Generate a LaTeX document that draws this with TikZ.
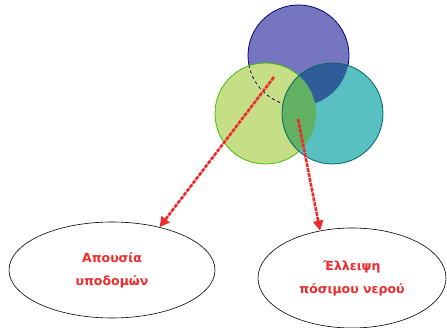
\documentclass[tikz,border=0pt]{standalone}
\usepackage{fontspec}
\setmainfont{DejaVu Sans}[BoldFont=DejaVu Sans Bold]
\usetikzlibrary{shapes.geometric,arrows.meta}
\definecolor{setblue}{HTML}{7676C0}
\definecolor{setgreen}{HTML}{C6DF86}
\definecolor{setteal}{HTML}{58C0C0}
\definecolor{bluecap}{HTML}{2E5D98}
\definecolor{greencap}{HTML}{62B062}
\definecolor{labred}{HTML}{EE2A2A}

\begin{document}
\begin{tikzpicture}[x=1pt,y=-1pt,line width=.8pt,
  bubble/.style={draw,ellipse,line width=.6pt,align=center,text=labred,
    font=\bfseries\fontsize{12.5}{23}\selectfont},
  link/.style={draw=labred,line width=2.6pt,dash pattern=on 4pt off 1pt,
    -{Triangle[length=10pt,width=10pt]}}]
  \useasboundingbox (0,0) rectangle (447,328);
  \coordinate (B) at (298.5,55.5);
  \coordinate (G) at (265.5,113.5);
  \coordinate (T) at (332.5,113.5);
  \fill[setblue] (B) circle (50.5pt);
  \draw[blue!50!black] (B) circle (50.5pt);
  \fill[setgreen] (G) circle (50.5pt);
  \begin{scope}
    \clip (G) circle (50.5pt);
    \draw[blue!30!black,dashed] (B) circle (50.5pt);
  \end{scope}
  \draw[green!50!olive] (G) circle (50.5pt);
  \fill[setteal] (T) circle (50.5pt);
  \begin{scope}
    \clip (T) circle (50.5pt);
    \fill[bluecap] (B) circle (50.5pt);
    \fill[greencap] (G) circle (50.5pt);
  \end{scope}
  \draw[teal!80!black] (T) circle (50.5pt);
  \node (infra) [bubble,minimum width=206pt,minimum height=96pt] at (112,270) {Απουσία\\υποδομών};
  \node (water) [bubble,minimum width=188pt,minimum height=100pt] at (352,278) {Έλλειψη\\πόσιμου νερού};
  \coordinate (s1) at (274,77);
  \coordinate (s2) at (298,119);
  \draw[link] (s1) -- (infra.42);
  \draw[link] (s2) -- (water.124);
\end{tikzpicture}
\end{document}
